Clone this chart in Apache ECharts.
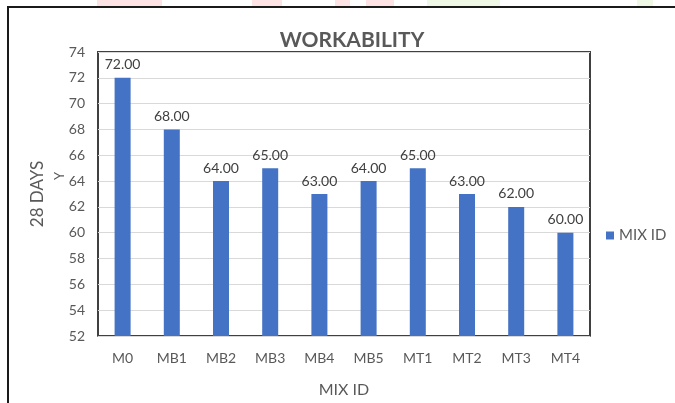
<!DOCTYPE html>
<html>
<head>
<meta charset="utf-8">
<script src="https://cdn.jsdelivr.net/npm/echarts@6/dist/echarts.min.js"></script>
<style>html,body{margin:0;padding:0;background:#fff;}#c{width:675px;height:403px;}</style>
</head>
<body>
<div id="c"></div>
<script>
var categories = ['M0','MB1','MB2','MB3','MB4','MB5','MT1','MT2','MT3','MT4'];
var values = [72, 68, 64, 65, 63, 64, 65, 63, 62, 60];
var seriesName = 'MIX ID';
var yMin = 52, yMax = 74, yStep = 2;

var FONT = 'Lato';
var chart = echarts.init(document.getElementById('c'));
chart.setOption({
  animation: false,
  backgroundColor: '#fff',
  textStyle: {fontFamily: FONT},
  title: {
    text: 'WORKABILITY', left: 347, top: 25, textAlign: 'center',
    textStyle: {fontSize: 21, fontWeight: 'bold', color: '#595959', fontFamily: FONT}
  },
  legend: {
    data: [seriesName], left: 601, top: 223, icon: 'rect', itemWidth: 8, itemHeight: 8, itemGap: 4,
    textStyle: {fontSize: 15, color: '#595959', fontFamily: FONT}
  },
  grid: {left: 98, top: 52, width: 492, height: 291, show: true, borderColor: '#404040', borderWidth: 2, containLabel: false},
  xAxis: {
    type: 'category', data: categories,
    name: 'MIX ID', nameLocation: 'middle', nameGap: 46,
    nameTextStyle: {fontSize: 16, color: '#595959', fontFamily: FONT},
    axisLine: {show: true, lineStyle: {color: '#d9d9d9', width: 1}},
    axisTick: {show: false},
    axisLabel: {fontSize: 14, color: '#595959', margin: 15, fontFamily: FONT}
  },
  yAxis: {
    type: 'value', min: yMin, max: yMax, interval: yStep,
    name: '28 DAYS', nameLocation: 'middle', nameGap: 52, nameRotate: 90,
    nameTextStyle: {fontSize: 17, color: '#595959', fontFamily: FONT},
    axisLine: {show: false}, axisTick: {show: false},
    axisLabel: {fontSize: 14, color: '#595959', margin: 13, fontFamily: FONT},
    splitLine: {lineStyle: {color: '#d9d9d9', width: 1}}
  },
  series: [{
    name: seriesName, type: 'bar', data: values, barWidth: 16,
    itemStyle: {color: '#4472C4'},
    label: {show: true, position: 'top', distance: 6, fontSize: 14, color: '#404040', fontFamily: FONT,
      formatter: function(p){ return p.value.toFixed(2); }}
  }],
  graphic: [
    {type: 'rect', shape: {x: 8, y: 7, width: 700, height: 420}, style: {fill: 'none', stroke: '#1a1a1a', lineWidth: 2}, z: 100},
    {type: 'rect', shape: {x: 97, y: 0, width: 65, height: 6}, style: {fill: '#fde3e3'}},
    {type: 'rect', shape: {x: 252, y: 0, width: 30, height: 6}, style: {fill: '#fde3e3'}},
    {type: 'rect', shape: {x: 335, y: 0, width: 15, height: 6}, style: {fill: '#fde3e3'}},
    {type: 'rect', shape: {x: 366, y: 0, width: 28, height: 6}, style: {fill: '#fde3e3'}},
    {type: 'rect', shape: {x: 427, y: 0, width: 73, height: 6}, style: {fill: '#eef8e4'}},
    {type: 'rect', shape: {x: 637, y: 0, width: 16, height: 6}, style: {fill: '#eef8e4'}},
    {type: 'text', x: 60, y: 176, rotation: Math.PI/2, style: {text: 'Y', fontSize: 13, fill: '#595959', fontFamily: FONT, align: 'center', verticalAlign: 'middle'}}
  ]
});
</script>
</body>
</html>
